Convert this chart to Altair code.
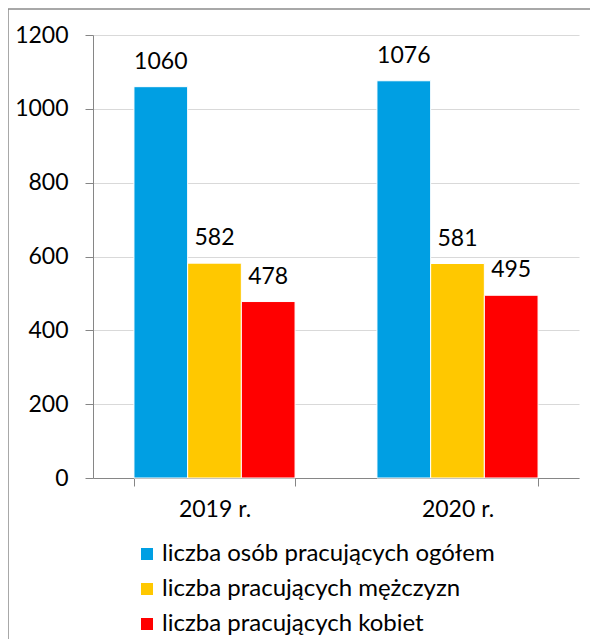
import altair as alt
import pandas as pd

years = ["2019 r.", "2020 r."]
series = ["liczba osób pracujących ogółem", "liczba pracujących mężczyzn", "liczba pracujących kobiet"]
total = [1060, 1076]
men = [582, 581]
women = [478, 495]
y_ticks = [0, 200, 400, 600, 800, 1000, 1200]
colors = ["#009FE3", "#FFC800", "#FF0000"]

rows = []
for i, yr in enumerate(years):
    for s, vals in zip(series, [total, men, women]):
        rows.append({"rok": yr, "seria": s, "wartosc": vals[i]})
df = pd.DataFrame(rows)

FONT = "Lato"
FS = 23
LFS = 24
AX = "#868686"

base = alt.Chart(df).encode(
    x=alt.X("rok:N", sort=years,
            scale=alt.Scale(paddingInner=0.337, paddingOuter=0.1685),
            axis=alt.Axis(title=None, labelAngle=0, tickBand="extent", domainColor=AX,
                          tickColor=AX, tickSize=8, labelPadding=12, labelFont=FONT,
                          labelFontSize=FS, labelColor="#000000", grid=False)),
    xOffset=alt.XOffset("seria:N", sort=series, scale=alt.Scale(paddingInner=0, paddingOuter=0)),
)

bars = base.mark_bar(stroke="white", strokeWidth=1).encode(
    y=alt.Y("wartosc:Q", scale=alt.Scale(domain=[0, 1200], nice=False),
            axis=alt.Axis(title=None, values=y_ticks, format="d", domainColor=AX, tickColor=AX,
                          tickSize=8, labelPadding=17, labelFont=FONT, labelFontSize=FS,
                          labelColor="#000000", gridColor="#D9D9D9", gridWidth=1)),
    color=alt.Color("seria:N", sort=series, scale=alt.Scale(domain=series, range=colors),
                    legend=alt.Legend(title=None, orient="none", legendX=42, legendY=507,
                                      direction="vertical", symbolType="square", symbolSize=144,
                                      symbolStrokeWidth=0, labelFont=FONT, labelFontSize=LFS,
                                      labelColor="#000000", rowPadding=11, labelOffset=3,
                                      labelLimit=0)),
)

labels = base.mark_text(baseline="alphabetic", dy=-18, fontSize=FS, font=FONT, color="#000000").encode(
    y=alt.Y("wartosc:Q"),
    text=alt.Text("wartosc:Q"),
)

frame = alt.Chart(pd.DataFrame({"a": [0]})).mark_rect(
    fill="transparent", stroke="#8C8C8C", strokeWidth=1.5, clip=False
).encode(
    x=alt.value(-85), x2=alt.value(640), y=alt.value(-26), y2=alt.value(700)
)

chart = alt.layer(bars, labels, frame).properties(
    width=486, height=443,
    autosize=alt.AutoSizeParams(type="none"),
    padding={"left": 85, "top": 27, "right": 11, "bottom": 161},
).configure_view(stroke=None)

chart.save("out.html", embed_options={"renderer": "svg", "actions": False})
